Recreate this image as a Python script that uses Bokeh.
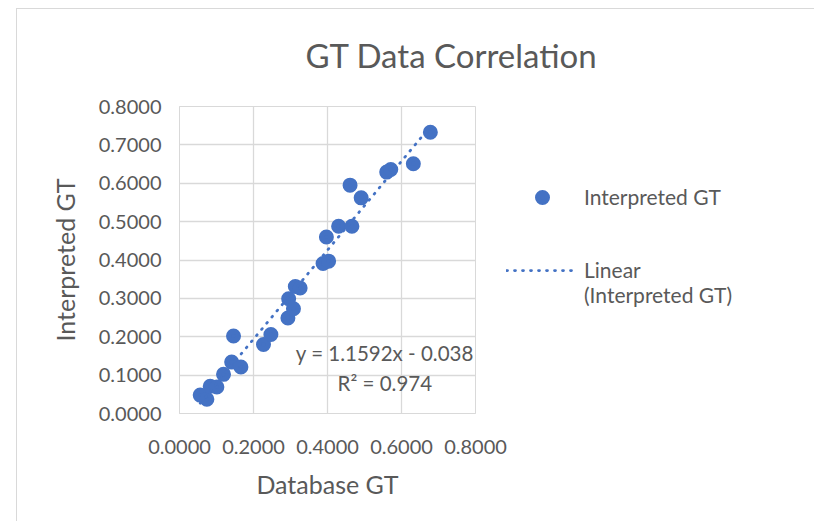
from bokeh.plotting import figure
from bokeh.models import (Label, Legend, LegendItem, FixedTicker,
                          NumeralTickFormatter, Range1d)
from bokeh.embed import file_html
from bokeh.resources import INLINE

# ---- data ----
database_gt = [0.056, 0.074, 0.083, 0.101, 0.119, 0.141, 0.146, 0.166, 0.227, 0.247,
               0.293, 0.295, 0.308, 0.313, 0.326, 0.388, 0.403, 0.397, 0.430, 0.466,
               0.461, 0.491, 0.560, 0.571, 0.632, 0.678]
interpreted_gt = [0.048, 0.037, 0.071, 0.069, 0.102, 0.134, 0.202, 0.121, 0.180, 0.206,
                  0.249, 0.299, 0.273, 0.331, 0.327, 0.391, 0.397, 0.460, 0.488, 0.488,
                  0.595, 0.562, 0.629, 0.636, 0.651, 0.733]
slope = 1.1592
intercept = -0.038
r_squared = 0.974
x_ticks = [0.0, 0.2, 0.4, 0.6, 0.8]
y_ticks = [0.0, 0.1, 0.2, 0.3, 0.4, 0.5, 0.6, 0.7, 0.8]

TEXT = "#595959"
GRID = "#d9d9d9"
BLUE = "#4472C4"
FONT = "Lato"

p = figure(width=806, height=521, frame_width=296, frame_height=307,
           output_backend="svg", toolbar_location=None,
           x_range=Range1d(0, 0.8), y_range=Range1d(0, 0.8),
           min_border_left=179, min_border_right=331, min_border_top=106,
           min_border_bottom=108)
p.background_fill_color = "white"
p.border_fill_color = None
p.outline_line_color = GRID
# outer chart border (left, top, right edges)
p.styles = {"box-shadow": "inset 16px 0 0 0 #ffffff, inset 0 8px 0 0 #ffffff, "
                          "inset 17px 0 0 0 #d9d9d9, inset 0 9px 0 0 #d9d9d9, "
                          "inset -1px 0 0 0 #d9d9d9",
            "background-color": "#ffffff"}

p.title.text = "GT Data Correlation"
p.title.align = "left"
p.title.offset = 126
p.title.standoff = 63
p.title.text_color = TEXT
p.title.text_font = FONT
p.title.text_font_size = "33px"
p.title.text_font_style = "normal"

for ax in (p.xaxis[0], p.yaxis[0]):
    ax.axis_line_color = GRID
    ax.major_tick_line_color = None
    ax.minor_tick_line_color = None
    ax.major_label_text_color = TEXT
    ax.major_label_text_font = FONT
    ax.major_label_text_font_size = "20px"
    ax.axis_label_text_color = TEXT
    ax.axis_label_text_font = FONT
    ax.axis_label_text_font_size = "25px"
    ax.axis_label_text_font_style = "normal"
    ax.formatter = NumeralTickFormatter(format="0.0000")

p.xaxis[0].ticker = FixedTicker(ticks=x_ticks)
p.yaxis[0].ticker = FixedTicker(ticks=y_ticks)
p.xaxis[0].axis_label = "Database GT"
p.yaxis[0].axis_label = "Interpreted GT"
p.xaxis[0].major_label_standoff = 20
p.yaxis[0].major_label_standoff = 12
p.xaxis[0].axis_label_standoff = 12
p.yaxis[0].axis_label_standoff = 16

p.xgrid.ticker = FixedTicker(ticks=x_ticks)
p.ygrid.ticker = FixedTicker(ticks=y_ticks)
p.grid.grid_line_color = GRID
p.grid.grid_line_width = 1.3

# marker = filled core + thick outline so the legend glyph matches the plot marker
pts = p.scatter(database_gt, interpreted_gt, size=9.6, line_width=5.4,
                fill_color=BLUE, line_color=BLUE)

x0, x1 = min(database_gt), max(database_gt)
trend = p.line([x0, x1], [slope * x0 + intercept, slope * x1 + intercept],
               line_color=BLUE, line_width=2.75, line_dash="1 7", line_cap="round")

blank = p.line(x=[], y=[], line_alpha=0)

legend = Legend(items=[LegendItem(label="Interpreted GT", renderers=[pts]),
                       LegendItem(label=" ", renderers=[blank]),
                       LegendItem(label=" ", renderers=[blank]),
                       LegendItem(label="Linear", renderers=[trend]),
                       LegendItem(label="(Interpreted GT)", renderers=[blank])],
                location=(31, 106), padding=0, margin=0, spacing=0, glyph_height=24,
                glyph_width=72, label_standoff=6, label_height=20,
                border_line_color=None, background_fill_alpha=0,
                label_text_color=TEXT, label_text_font=FONT,
                label_text_font_size="21px")
p.add_layout(legend, "right")

p.add_layout(Label(x=0.555, y=0.157, text=f"y = {slope}x - {abs(intercept)}",
                   text_color=TEXT, text_font=FONT, text_font_size="20.5px",
                   text_align="center", text_baseline="middle"))
p.add_layout(Label(x=0.555, y=0.079, text=f"R² = {r_squared}",
                   text_color=TEXT, text_font=FONT, text_font_size="20.5px",
                   text_align="center", text_baseline="middle"))

open("out.html", "w").write(file_html(p, INLINE))
